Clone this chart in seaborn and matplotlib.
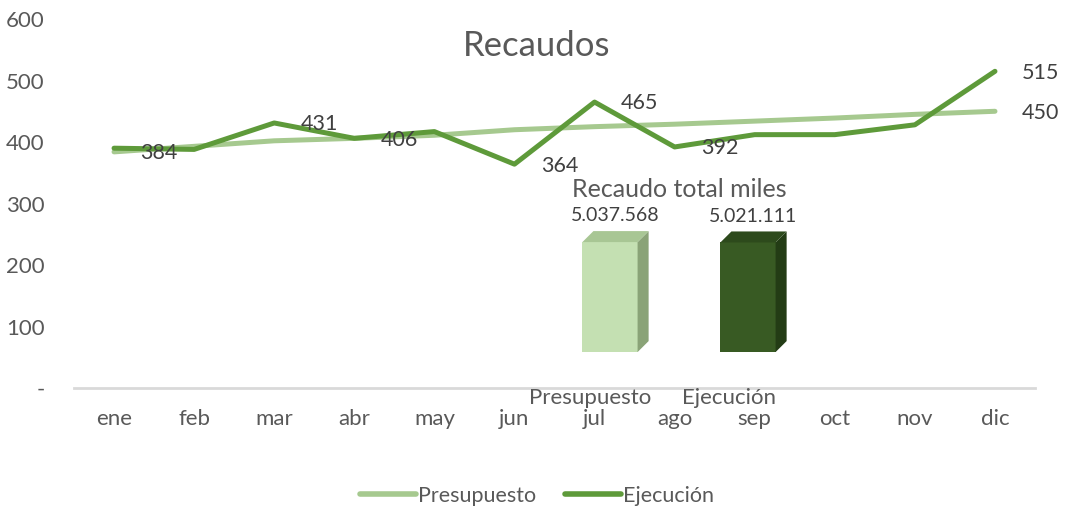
import numpy as np
import pandas as pd
import matplotlib
matplotlib.use("Agg")
import matplotlib.pyplot as plt
import seaborn as sns
from matplotlib.patches import Polygon
from matplotlib.lines import Line2D

# Data
MONTHS = ['ene', 'feb', 'mar', 'abr', 'may', 'jun', 'jul', 'ago', 'sep', 'oct', 'nov', 'dic']
PRESUPUESTO = [384, 393, 402, 406, 411, 420, 425, 429, 434, 439, 445, 450]
EJECUCION = [390, 388, 431, 406, 417, 364, 465, 392, 412, 412, 428, 515]
# months whose value carries a data label
PRES_LABELED = ['ene', 'dic']
EJEC_LABELED = ['mar', 'abr', 'jun', 'jul', 'ago', 'dic']

BAR_CATS = ['Presupuesto', 'Ejecución']
BAR_VALUES = [5037568, 5021111]

Y_TICKS = [0, 100, 200, 300, 400, 500, 600]
Y_TICK_LABELS = ['-', '100', '200', '300', '400', '500', '600']

# Style
FONT = ['Lato', 'DejaVu Sans']
TEXT_GRAY = '#595959'
LABEL_GRAY = '#404040'
LINE_COLORS = {'Presupuesto': '#a6c98f', 'Ejecución': '#5e9a3a'}
BAR_FRONT = {'Presupuesto': '#c4e0b2', 'Ejecución': '#385a23'}
BAR_SIDE = {'Presupuesto': '#8aa377', 'Ejecución': '#233c15'}
BAR_TOP = {'Presupuesto': '#a8c694', 'Ejecución': '#2d4a1c'}

sns.set_theme(style='white')
plt.rcParams['font.family'] = FONT

fig = plt.figure(figsize=(10.74, 5.14), dpi=100)
ax = fig.add_axes([0.0689, 0.245, 0.8948, 0.718])

df = pd.DataFrame({
    'pos': list(range(len(MONTHS))) * 2,
    'mes': MONTHS * 2,
    'valor': PRESUPUESTO + EJECUCION,
    'serie': ['Presupuesto'] * len(MONTHS) + ['Ejecución'] * len(MONTHS),
})

sns.lineplot(data=df, x='pos', y='valor', hue='serie', palette=LINE_COLORS,
             hue_order=['Presupuesto', 'Ejecución'], linewidth=3.6, sort=False,
             legend=False, ax=ax)
for ln in ax.lines:
    ln.set_solid_capstyle('round')
    ln.set_solid_joinstyle('round')

ax.set_xlim(-0.5, len(MONTHS) - 0.5)
ax.set_ylim(0, 600)
ax.set_xticks(range(len(MONTHS)))
ax.set_xticklabels(MONTHS)
ax.set_yticks(Y_TICKS)
ax.set_yticklabels(Y_TICK_LABELS)
ax.tick_params(axis='both', length=0, labelsize=16, labelcolor=TEXT_GRAY)
ax.tick_params(axis='y', pad=21)
ax.tick_params(axis='x', pad=15)
ax.set_xlabel('')
ax.set_ylabel('')
for side in ['top', 'right', 'left']:
    ax.spines[side].set_visible(False)
ax.spines['bottom'].set_color('#d9d9d9')
ax.spines['bottom'].set_linewidth(2)
ax.grid(False)

for serie, labeled in [('Presupuesto', PRES_LABELED), ('Ejecución', EJEC_LABELED)]:
    sub = df[df['serie'] == serie]
    for _, row in sub.iterrows():
        if row['mes'] in labeled:
            ax.annotate(f"{row['valor']:.0f}", (row['pos'], row['valor']),
                        xytext=(19, -1), textcoords='offset points',
                        ha='left', va='center', fontsize=15.5, color=LABEL_GRAY)

ax.text(0.5, 0.91, 'Recaudos', transform=fig.transFigure, ha='center', va='center',
        fontsize=25, color=TEXT_GRAY)

# Inset: total collected
bax = fig.add_axes([0.5037, 0.315, 0.257, 0.2354])
bar_df = pd.DataFrame({'cat': BAR_CATS, 'valor': BAR_VALUES})
sns.barplot(data=bar_df, x='cat', y='valor', hue='cat', palette=BAR_FRONT, saturation=1,
            width=0.4, legend=False, ax=bax, linewidth=0)
bax.set_ylim(0, max(BAR_VALUES) * 1.1)
bax.set_xlim(-0.5, 1.5)
bax.axis('off')

DX = 0.08
DY = max(BAR_VALUES) * 0.1
for patch, cat in zip(bax.patches, BAR_CATS):
    x0 = patch.get_x()
    w = patch.get_width()
    h = patch.get_height()
    side = Polygon([(x0 + w, 0), (x0 + w + DX, DY), (x0 + w + DX, h + DY), (x0 + w, h)],
                   closed=True, facecolor=BAR_SIDE[cat], edgecolor='none')
    top = Polygon([(x0, h), (x0 + w, h), (x0 + w + DX, h + DY), (x0 + DX, h + DY)],
                  closed=True, facecolor=BAR_TOP[cat], edgecolor='none')
    bax.add_patch(side)
    bax.add_patch(top)
    lbl = f"{h:,.0f}".replace(',', '.')
    bax.annotate(lbl, (x0 + w / 2 + DX / 2, h + DY), xytext=(0, 5), textcoords='offset points',
                 ha='center', va='bottom', fontsize=14, color=LABEL_GRAY, annotation_clip=False)
    bax.annotate(cat, (x0 + w / 2, 0), xytext=(-14, -26), textcoords='offset points',
                 ha='center', va='top', fontsize=16, color=TEXT_GRAY, annotation_clip=False)

bax.text(0.5, 1.34, 'Recaudo total miles', transform=bax.transAxes, ha='center', va='center',
         fontsize=18, color=TEXT_GRAY)

handles = [Line2D([0], [0], color=LINE_COLORS[s], lw=4, solid_capstyle='round') for s in ['Presupuesto', 'Ejecución']]
leg = fig.legend(handles, ['Presupuesto', 'Ejecución'], loc='center', bbox_to_anchor=(0.5, 0.035),
                 ncol=2, frameon=False, fontsize=15.5, handlelength=2.6, handletextpad=0.1,
                 columnspacing=1.3)
for t in leg.get_texts():
    t.set_color(TEXT_GRAY)

fig.savefig('out.png', dpi=100)
plt.close(fig)
